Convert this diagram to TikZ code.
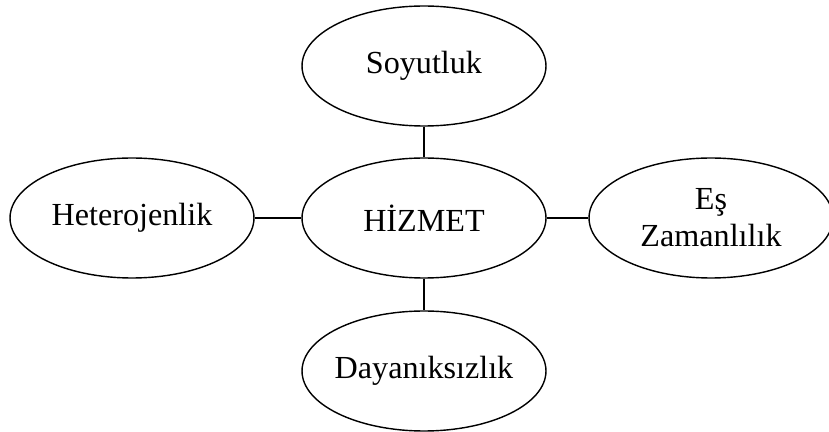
\documentclass[tikz,border=0pt]{standalone}
\usepackage{fontspec}
\setmainfont{Liberation Serif}
\usepackage{tikz}
\usetikzlibrary{shapes.geometric}

\tikzset{
  kavram/.style={draw, ellipse, line width=0.8pt, minimum width=4.88cm,
    minimum height=2.4cm, inner ysep=0pt, inner xsep=-4pt, align=center,
    font=\fontsize{18.3}{21}\selectfont},
  bag/.style={line width=1.2pt}
}

\begin{document}
\begin{tikzpicture}[x=0.02cm, y=-0.02cm]

    \useasboundingbox (0,0) rectangle (829,432);

    \node[kavram] (hizmet) at (424, 218) {HİZMET};
    \node[kavram] (soyut) at (424, 66) {Soyutluk};
    \node[kavram] (hetero) at (132, 218) {Heterojenlik};
    \node[kavram] (es) at (711, 218) {Eş\\Zamanlılık};
    \node[kavram] (dayan) at (424, 371) {Dayanıksızlık};

    \draw [bag] (soyut) to (hizmet);
    \draw [bag] (hetero) to (hizmet);
    \draw [bag] (hizmet) to (es);
    \draw [bag] (hizmet) to (dayan);

\end{tikzpicture}
\end{document}
